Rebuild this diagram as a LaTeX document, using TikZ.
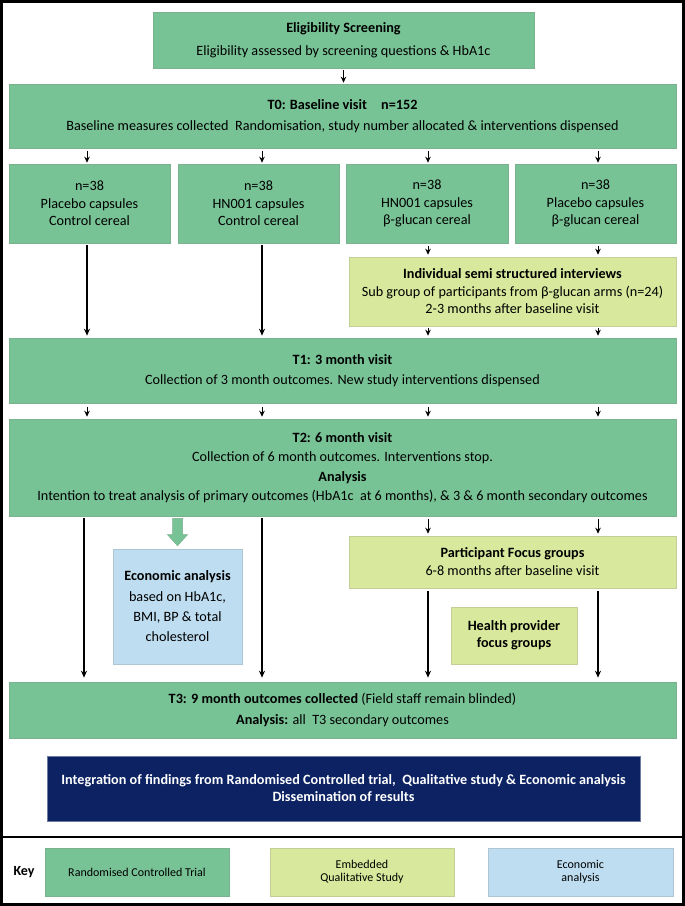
\documentclass[tikz,border=0pt]{standalone}
\usepackage{fontspec}
\setmainfont{Carlito}
\usetikzlibrary{arrows.meta}
\definecolor{rctgreen}{HTML}{78C396}
\definecolor{qualgreen}{HTML}{D8E89C}
\definecolor{econblue}{HTML}{BEDDF0}
\definecolor{navy}{HTML}{0C2262}
\tikzset{
  basebox/.style={rectangle, inner sep=0pt, align=center, draw=#1!75!gray, line width=0.6pt},
  rct/.style={basebox=rctgreen, fill=rctgreen},
  qual/.style={basebox=qualgreen, fill=qualgreen},
  econ/.style={basebox=econblue, fill=econblue},
  arr/.style={line width=1pt, -{Stealth[length=6pt,width=5.5pt]}},
  longarr/.style={line width=1.5pt, -{Stealth[length=7pt,width=6pt]}},
  fs/.style={font=\fontsize{14.2}{#1}\selectfont},
}
\begin{document}
\begin{tikzpicture}[x=1pt,y=-1pt]
\useasboundingbox (0,0) rectangle (685,906);
\fill[white] (0,0) rectangle (685,906);
\draw[line width=3pt] (1.5,1.5) rectangle (683.5,904.5);
\draw[line width=2pt] (1.5,837) -- (683.5,837);

% column coordinates
\coordinate (c1) at (87,0);
\coordinate (c2) at (262,0);
\coordinate (c3) at (428,0);
\coordinate (c4) at (598,0);
\coordinate (d1) at (84,0);

\node[rct, fs=23, minimum width=381pt, minimum height=56pt] (elig) at (343.5,40)
  {\textbf{Eligibility Screening}\\Eligibility assessed by screening questions \& HbA1c};
\node[rct, fs=21, minimum width=667pt, minimum height=64pt] (t0) at (342.5,116)
  {\textbf{T0: Baseline visit\quad n=152}\\Baseline measures collected\ \ Randomisation, study number allocated \& interventions dispensed};

\node[rct, fs=17.5, minimum width=161pt, minimum height=79pt] (a1) at (89.5,203.5)
  {n=38\\Placebo capsules\\Control cereal};
\node[rct, fs=17.5, minimum width=161pt, minimum height=79pt] (a2) at (258.5,203.5)
  {n=38\\HN001 capsules\\Control cereal};
\node[rct, fs=17.5, minimum width=162pt, minimum height=79pt] (a3) at (427,203.5)
  {n=38\\HN001 capsules\\β-glucan cereal};
\node[rct, fs=17.5, minimum width=161pt, minimum height=79pt] (a4) at (595.5,203.5)
  {n=38\\Placebo capsules\\β-glucan cereal};

\node[qual, fs=17.5, minimum width=327pt, minimum height=69pt] (intv) at (512.5,291.5)
  {\textbf{Individual semi structured interviews}\\Sub group of participants from β-glucan arms (n=24)\\2-3 months after baseline visit};

\node[rct, fs=20, minimum width=667pt, minimum height=65pt] (t1) at (342.5,370.5)
  {\textbf{T1: 3 month visit}\\Collection of 3 month outcomes. New study interventions dispensed};

\node[rct, fs=19.5, minimum width=667pt, minimum height=97pt] (t2) at (342.5,467.5)
  {\textbf{T2: 6 month visit}\\Collection of 6 month outcomes. Interventions stop.\\\textbf{Analysis}\\Intention to treat analysis of primary outcomes (HbA1c\ \ at 6 months), \& 3 \& 6 month secondary outcomes};

\node[econ, fs=20.3, minimum width=129pt, minimum height=115pt] (eco) at (177.5,606.5)
  {\textbf{Economic analysis}\\based on HbA1c,\\BMI, BP \& total\\cholesterol};

\node[qual, fs=18, minimum width=327pt, minimum height=52pt] (focus) at (512.5,562)
  {\textbf{Participant Focus groups}\\6-8 months after baseline visit};

\node[qual, fs=17, minimum width=126pt, minimum height=57pt] (hp) at (514,635.5)
  {\textbf{Health provider}\\\textbf{focus groups}};

\node[rct, fs=21, minimum width=667pt, minimum height=56pt] (t3) at (342.5,710)
  {\textbf{T3: 9 month outcomes collected} (Field staff remain blinded)\\\textbf{Analysis:} all\ \ T3 secondary outcomes};

\node[fill=navy, draw=navy!60!white, line width=0.8pt, inner sep=0pt, align=center, text=white,
  fs=17, minimum width=593pt, minimum height=65pt] (integ) at (343.5,788.5)
  {\textbf{Integration of findings from Randomised Controlled trial,\ \ Qualitative study \& Economic analysis}\\\textbf{Dissemination of results}};

% key
\node[font=\fontsize{14}{16}\selectfont\bfseries] (keylbl) at (24,872) {Key};
\node[rct, font=\fontsize{12}{13}\selectfont, minimum width=184pt, minimum height=48pt] (k1) at (137,872)
  {Randomised Controlled Trial};
\node[qual, font=\fontsize{12}{13}\selectfont, minimum width=184pt, minimum height=48pt] (k2) at (362,872)
  {Embedded\\Qualitative Study};
\node[econ, font=\fontsize{12}{13}\selectfont, minimum width=185pt, minimum height=48pt] (k3) at (580.5,872)
  {Economic\\analysis};

% connectors (canvas yshift: negative = downwards)
\draw[arr] ([yshift=-2pt]elig.south) -- ([yshift=1pt]t0.north -| elig.south);
\foreach \c/\a in {c1/a1, c2/a2, c3/a3, c4/a4}{
  \draw[arr] ([yshift=-3pt]\c |- t0.south) -- ([yshift=1pt]\c |- \a.north);
}
\draw[longarr] ([yshift=-2pt]c1 |- a1.south) -- ([yshift=2pt]c1 |- t1.north);
\draw[longarr] ([yshift=-2pt]c2 |- a2.south) -- ([yshift=2pt]c2 |- t1.north);
\draw[arr] ([yshift=-3pt]c3 |- a3.south) -- ([yshift=2pt]c3 |- intv.north);
\draw[arr] ([yshift=-3pt]c4 |- a4.south) -- ([yshift=2pt]c4 |- intv.north);
\draw[arr] ([yshift=-2pt]c3 |- intv.south) -- ([yshift=2pt]c3 |- t1.north);
\draw[arr] ([yshift=-2pt]c4 |- intv.south) -- ([yshift=2pt]c4 |- t1.north);
\foreach \c in {c1,c2,c3,c4}{
  \draw[arr] ([yshift=-4pt]\c |- t1.south) -- ([yshift=2pt]\c |- t2.north);
}
\draw[longarr] ([yshift=-2pt]d1 |- t2.south) -- ([yshift=4pt]d1 |- t3.north);
\draw[longarr] ([yshift=-2pt]c2 |- t2.south) -- ([yshift=4pt]c2 |- t3.north);
\draw[arr] ([yshift=-3pt]c3 |- t2.south) -- ([yshift=2pt]c3 |- focus.north);
\draw[arr] ([yshift=-3pt]c4 |- t2.south) -- ([yshift=2pt]c4 |- focus.north);
\draw[longarr] ([yshift=-3pt]c3 |- focus.south) -- ([yshift=4pt]c3 |- t3.north);
\draw[longarr] ([yshift=-3pt]c4 |- focus.south) -- ([yshift=4pt]c4 |- t3.north);

% fat green arrow from T2 to economic analysis
\coordinate (fa) at ([yshift=-2pt]eco.north |- t2.south);
\coordinate (fb) at ([yshift=3pt]eco.north);
\fill[rctgreen, draw=rctgreen!70!gray, line width=0.5pt]
  ([xshift=-5pt]fa) -- ([xshift=5pt]fa) -- ([xshift=5pt,yshift=11pt]fb) -- ([xshift=10pt,yshift=11pt]fb)
  -- (fb) -- ([xshift=-10pt,yshift=11pt]fb) -- ([xshift=-5pt,yshift=11pt]fb) -- cycle;
\end{tikzpicture}
\end{document}
